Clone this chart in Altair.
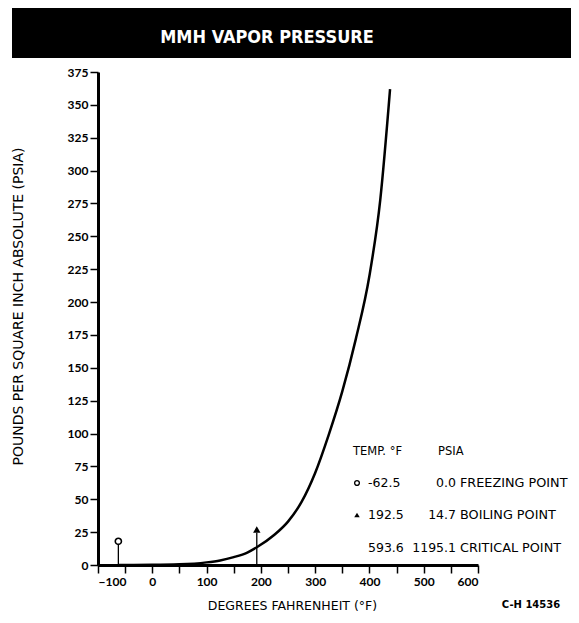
import altair as alt
import pandas as pd

# --- data ---
temps = [-62.5, 0, 50, 100, 125, 150, 175, 192.5, 225, 250, 275, 300, 325, 350, 375, 400, 420, 438]
psia = [0.0, 0.1, 0.5, 2.0, 3.5, 6.0, 9.5, 13.5, 23, 33, 48, 70, 99, 132, 172, 220, 278, 362]

point_names = ["FREEZING POINT", "BOILING POINT", "CRITICAL POINT"]
point_temps = ["-62.5", "192.5", "593.6"]
point_psia = ["0.0", "14.7", "1195.1"]

marker_temps = [-62.5, 192.5]
marker_heights = [18, 27]
stem_tops = [15.5, 24.5]

x_ticks = list(range(-100, 601, 50))
y_ticks = list(range(0, 376, 25))

FONT = "Lato"
TFONT = "DejaVu Sans"

curve_df = pd.DataFrame({"t": temps, "p": psia})
marker_df = pd.DataFrame({"t": marker_temps, "h": marker_heights, "top": stem_tops})
one = pd.DataFrame({"a": [0]})

x_scale = alt.Scale(domain=[-100, 600], nice=False, zero=False)
y_scale = alt.Scale(domain=[0, 375], nice=False)

x_axis = alt.Axis(
    values=x_ticks,
    labelExpr="datum.value % 100 == 0 ? datum.label : ''",
    format="d",
    title="DEGREES FAHRENHEIT (°F)",
    titleX=194, titleY=40, titleBaseline="middle", titleAlign="center",
    tickSize=8, labelPadding=3, grid=False, labelOverlap=False,
)
y_axis = alt.Axis(
    values=y_ticks,
    format="d",
    title="POUNDS PER SQUARE INCH ABSOLUTE (PSIA)",
    titleX=-80, titleY=234, titleBaseline="middle", titleAlign="center",
    titleFontSize=14,
    tickSize=8, labelPadding=2, grid=False, labelOverlap=False,
)

def X(field):
    return alt.X(field, scale=x_scale, axis=x_axis)

def Y(field):
    return alt.Y(field, scale=y_scale, axis=y_axis)

curve = alt.Chart(curve_df).mark_line(
    color="black", strokeWidth=2.5, interpolate="monotone"
).encode(x=X("t:Q"), y=Y("p:Q"))

stems = alt.Chart(marker_df).transform_calculate(zero="0").mark_rule(
    color="black", strokeWidth=1.3
).encode(x=X("t:Q"), y=Y("zero:Q"), y2="top:Q")

circle_pt = alt.Chart(marker_df.iloc[[0]]).mark_point(
    shape="circle", filled=True, fill="white", stroke="black", strokeWidth=1.6, size=38, opacity=1
).encode(x=X("t:Q"), y=Y("h:Q"))

tri_pt = alt.Chart(marker_df.iloc[[1]]).mark_point(
    shape="triangle-up", filled=True, color="black", size=55, opacity=1
).encode(x=X("t:Q"), y=Y("h:Q"))

# title banner
banner = alt.Chart(one).mark_rect(color="black").encode(
    x=alt.value(-86), x2=alt.value(480), y=alt.value(-64), y2=alt.value(-14)
)
banner_text = alt.Chart(one).mark_text(
    text="MMH VAPOR PRESSURE", color="white", font="DejaVu Sans Condensed",
    fontWeight="bold", fontSize=18, align="center", baseline="middle"
).encode(x=alt.value(169), y=alt.value(-34))

layers = [banner, banner_text, curve, stems, circle_pt, tri_pt]

def txt(s, x, y, align="left", size=12, weight="normal", font=TFONT):
    return alt.Chart(one).mark_text(
        text=s, font=font, fontSize=size, fontWeight=weight, color="black",
        align=align, baseline="middle"
    ).encode(x=alt.value(x), y=alt.value(y))

# legend table
layers.append(txt("TEMP. °F", 255, 380, size=11.5))
layers.append(txt("PSIA", 340, 380, size=11.5))
row_y = [411, 443, 476]
for i in range(3):
    layers.append(txt(point_temps[i], 270, row_y[i], size=12.5))
    layers.append(txt(point_psia[i], 358, row_y[i], align="right", size=12.5))
    layers.append(txt(point_names[i], 362, row_y[i], size=12.8))

layers.append(alt.Chart(one).mark_point(
    shape="circle", filled=True, fill="white", stroke="black", strokeWidth=1.4, size=22, opacity=1
).encode(x=alt.value(259), y=alt.value(row_y[0])))
layers.append(alt.Chart(one).mark_point(
    shape="triangle-up", filled=True, color="black", size=30, opacity=1
).encode(x=alt.value(259), y=alt.value(row_y[1])))

layers.append(txt("C-H 14536", 433, 533, align="center", size=10, weight="bold"))

chart = alt.layer(*layers).properties(
    width=380, height=493,
    autosize=alt.AutoSizeParams(type="none"),
    padding={"left": 90, "top": 64, "right": 93, "bottom": 52},
).configure_view(stroke=None).configure_axis(
    domainColor="black", domainWidth=3, tickColor="black", tickWidth=1.5,
    labelFont=FONT, labelFontSize=12, labelFontWeight="bold", labelColor="black",
    titleFont=TFONT, titleFontSize=12.5, titleFontWeight="normal", titleColor="black",
)

chart.save("out.html", embed_options={"renderer": "svg", "actions": False})
